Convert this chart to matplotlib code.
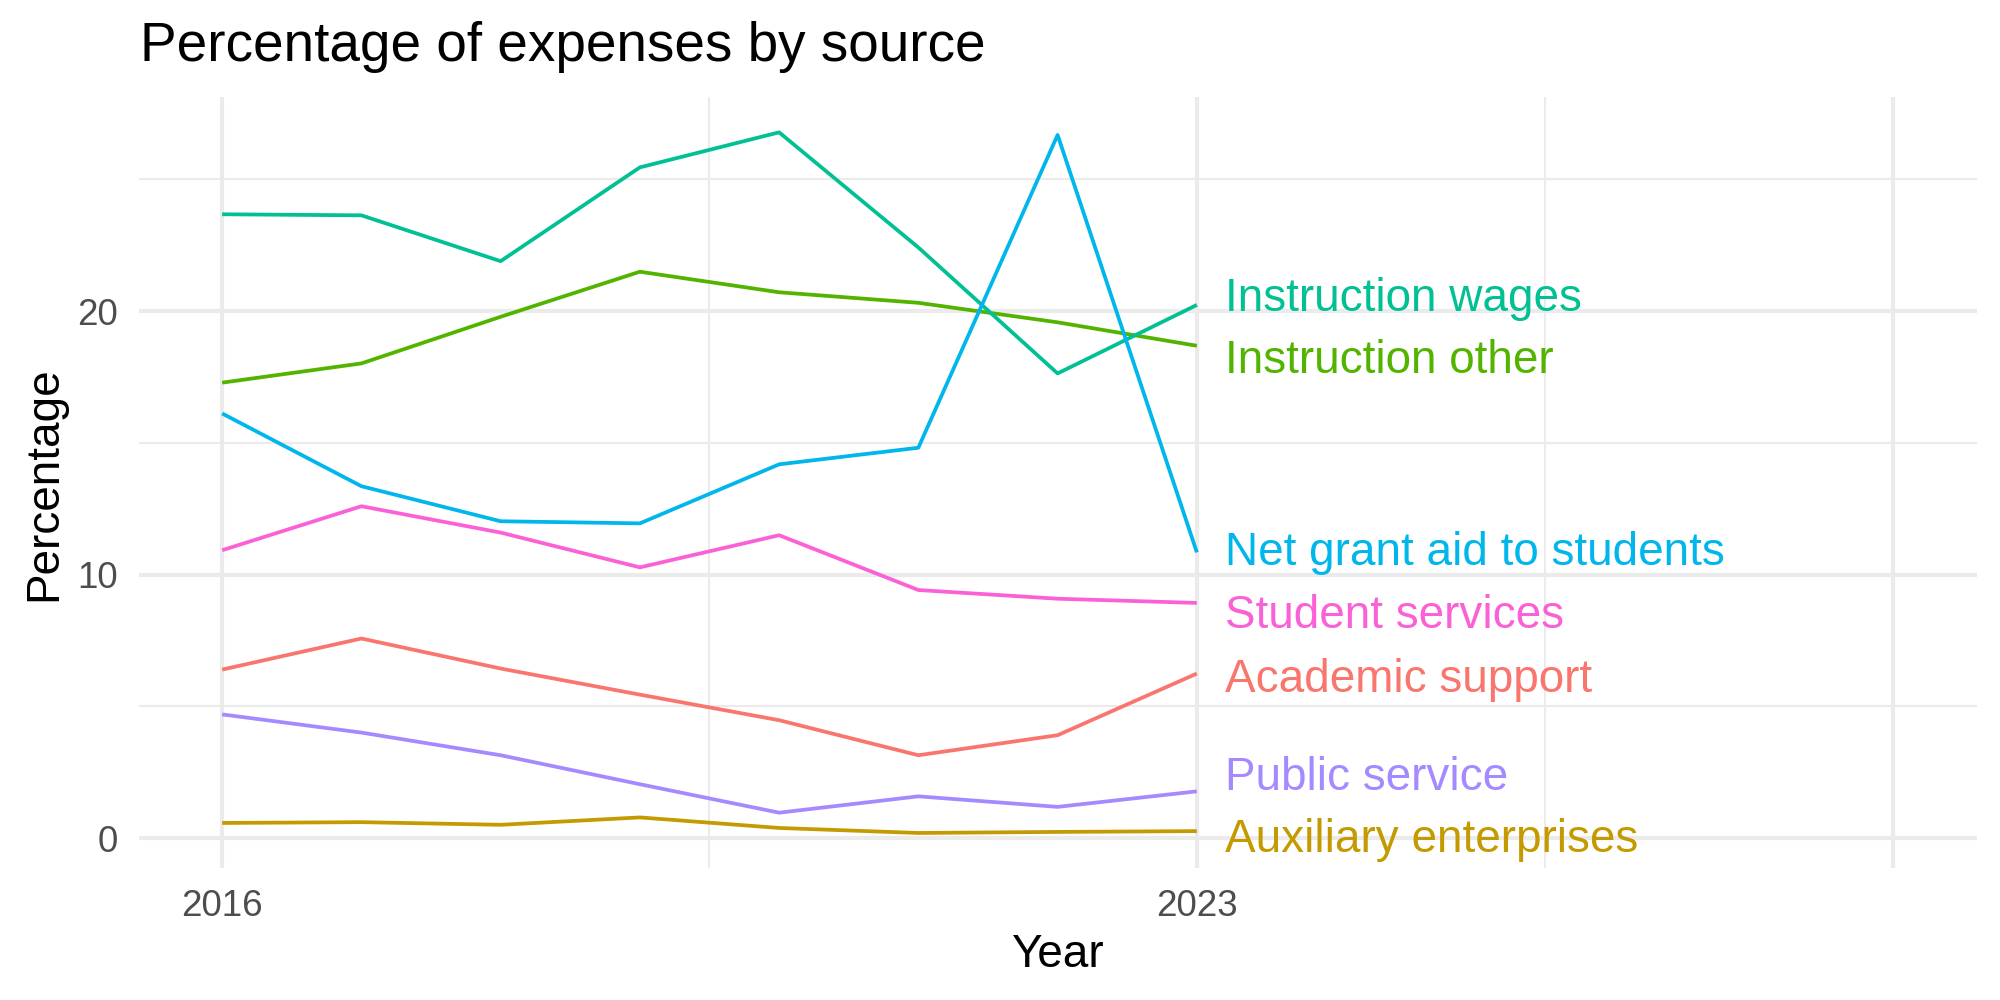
import matplotlib
matplotlib.use("Agg")
import matplotlib.pyplot as plt
import numpy as np

plt.rcParams['font.family'] = ['Liberation Sans', 'DejaVu Sans']

years = [2016, 2017, 2018, 2019, 2020, 2021, 2022, 2023]
series_names = ["Academic support", "Auxiliary enterprises", "Instruction other",
                "Instruction wages", "Net grant aid to students", "Public service",
                "Student services"]
academic_support = [6.40, 7.58, 6.44, 5.45, 4.48, 3.15, 3.91, 6.25]
auxiliary_enterprises = [0.58, 0.61, 0.51, 0.79, 0.39, 0.20, 0.24, 0.27]
instruction_other = [17.29, 18.02, 19.79, 21.50, 20.72, 20.32, 19.58, 18.69]
instruction_wages = [23.68, 23.64, 21.90, 25.46, 26.79, 22.42, 17.64, 20.24]
net_grant_aid = [16.12, 13.36, 12.03, 11.95, 14.19, 14.82, 26.69, 10.85]
public_service = [4.70, 4.01, 3.15, 2.05, 0.97, 1.59, 1.19, 1.78]
student_services = [10.93, 12.60, 11.60, 10.28, 11.50, 9.42, 9.09, 8.93]
# label baselines (after repel) in data units
label_y = [5.55, -0.52, 17.64, 20.02, 10.36, 1.82, 7.96]
colors = ["#F8766D", "#C49A00", "#53B400", "#00C094", "#00B6EB", "#A58AFF", "#FB61D7"]
x_breaks = [2016, 2023, 2028]
x_labels = ["2016", "2023", ""]
x_minor = [2019.5, 2025.5]
y_breaks = [0, 10, 20]
y_minor = [5, 15, 25]
x_data_max = 2028

values = [academic_support, auxiliary_enterprises, instruction_other,
          instruction_wages, net_grant_aid, public_service, student_services]

W, H = 2000, 1000
fig = plt.figure(figsize=(20, 10), dpi=100)
left, right, top, bottom = 138.6, 1976.6, 97.3, 868.0
ax = fig.add_axes([left / W, 1 - bottom / H, (right - left) / W, (bottom - top) / H])

grid_c = "#EBEBEB"
for xb in x_breaks:
    ax.axvline(xb, color=grid_c, lw=3.0, zorder=0)
for xm in x_minor:
    ax.axvline(xm, color=grid_c, lw=1.5, zorder=0)
for yb in y_breaks:
    ax.axhline(yb, color=grid_c, lw=3.0, zorder=0)
for ym in y_minor:
    ax.axhline(ym, color=grid_c, lw=1.5, zorder=0)

for name, vals, c, ly in zip(series_names, values, colors, label_y):
    ax.plot(years, vals, color=c, lw=2.7, solid_capstyle='butt', zorder=2)
    ax.text(years[-1] + 0.2, ly, name, color=c, fontsize=33, ha='left',
            va='baseline', zorder=3)

allv = np.concatenate([np.array(v) for v in values])
ymin, ymax = allv.min(), allv.max()
yr = ymax - ymin
ax.set_ylim(ymin - 0.05 * yr, ymax + 0.05 * yr)
xr = x_data_max - years[0]
ax.set_xlim(years[0] - 0.05 * xr, x_data_max + 0.05 * xr)

ax.set_xticks(x_breaks)
ax.set_xticklabels(x_labels)
ax.set_yticks(y_breaks)
ax.tick_params(axis='both', length=0, pad=15, labelsize=26.5, labelcolor="#4D4D4D")
for s in ax.spines.values():
    s.set_visible(False)
ax.set_facecolor("white")

fig.text(140 / W, 1 - 61 / H, "Percentage of expenses by source", fontsize=39.5,
         ha='left', va='baseline', color='black')
fig.text((left + right) / 2 / W, 1 - 966.7 / H, "Year", fontsize=33,
         ha='center', va='baseline', color='black')
fig.text(56 / W, 1 - 483.6 / H, "Percentage", fontsize=33, rotation=90,
         rotation_mode='anchor', ha='center', va='baseline', color='black')

fig.savefig("out.png", dpi=100, facecolor='white')
